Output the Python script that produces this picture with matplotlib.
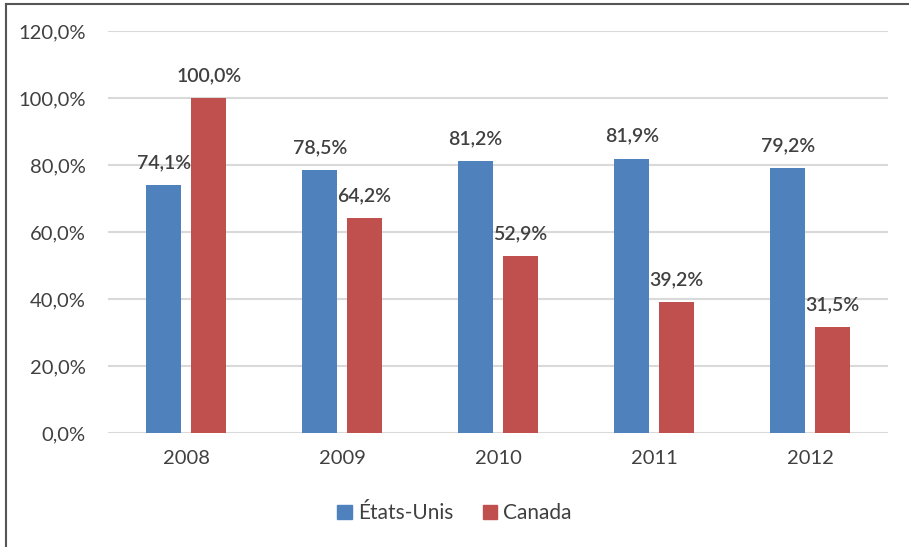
import matplotlib.pyplot as plt
import matplotlib.patches as mpatches
import numpy as np

# Données
years = ['2008', '2009', '2010', '2011', '2012']
etats_unis = [74.1, 78.5, 81.2, 81.9, 79.2]
canada = [100.0, 64.2, 52.9, 39.2, 31.5]
series_names = ['États-Unis', 'Canada']

BLUE = '#4F81BD'
RED = '#C0504D'
TEXT = '#404040'
GRID = '#D9D9D9'

plt.rcParams['font.family'] = ['Lato', 'DejaVu Sans']

fig = plt.figure(figsize=(9.09, 5.47), dpi=100)
ax = fig.add_axes([0.119, 0.2084, 0.858, 0.7349])

x = np.arange(len(years))
w = 0.224
off = 0.144

b1 = ax.bar(x - off, etats_unis, w, color=BLUE, zorder=3)
b2 = ax.bar(x + off, canada, w, color=RED, zorder=3)

def fmt(v):
    return f"{v:.1f}%".replace('.', ',')

for bars, vals in ((b1, etats_unis), (b2, canada)):
    for rect, v in zip(bars, vals):
        ax.annotate(fmt(v), (rect.get_x() + rect.get_width() / 2, v),
                    xytext=(0, 10), textcoords='offset points',
                    ha='center', va='bottom', fontsize=14,
                    fontweight='semibold', color=TEXT)

ax.set_xlim(-0.5, len(years) - 0.5)
ax.set_ylim(0, 120)
ax.set_yticks(np.arange(0, 121, 20))
ax.set_yticklabels([fmt(v) for v in np.arange(0, 121, 20)])
ax.set_xticks(x)
ax.set_xticklabels(years)
ax.tick_params(axis='both', length=0, labelsize=14.5, labelcolor=TEXT)
ax.tick_params(axis='y', pad=16)
ax.tick_params(axis='x', pad=12)
ax.yaxis.grid(True, color=GRID, linewidth=1.5, zorder=0)
for s in ax.spines.values():
    s.set_visible(False)

handles = [mpatches.Patch(color=BLUE, label=series_names[0]),
           mpatches.Patch(color=RED, label=series_names[1])]
fig.legend(handles=handles, loc='center', bbox_to_anchor=(0.5, 0.062),
           ncol=2, frameon=False, fontsize=15, handlelength=0.7,
           handleheight=0.7, handletextpad=0.3, columnspacing=1.4,
           labelcolor=TEXT)

# cadre partiel de l'image
fig.add_artist(plt.Line2D([0.0066, 0.0066], [0, 0.993], color='#555555',
                          linewidth=1.5, transform=fig.transFigure))
fig.add_artist(plt.Line2D([0.0066, 1], [0.993, 0.993], color='#555555',
                          linewidth=1.5, transform=fig.transFigure))

fig.savefig('out.png', dpi=100, facecolor='white')
